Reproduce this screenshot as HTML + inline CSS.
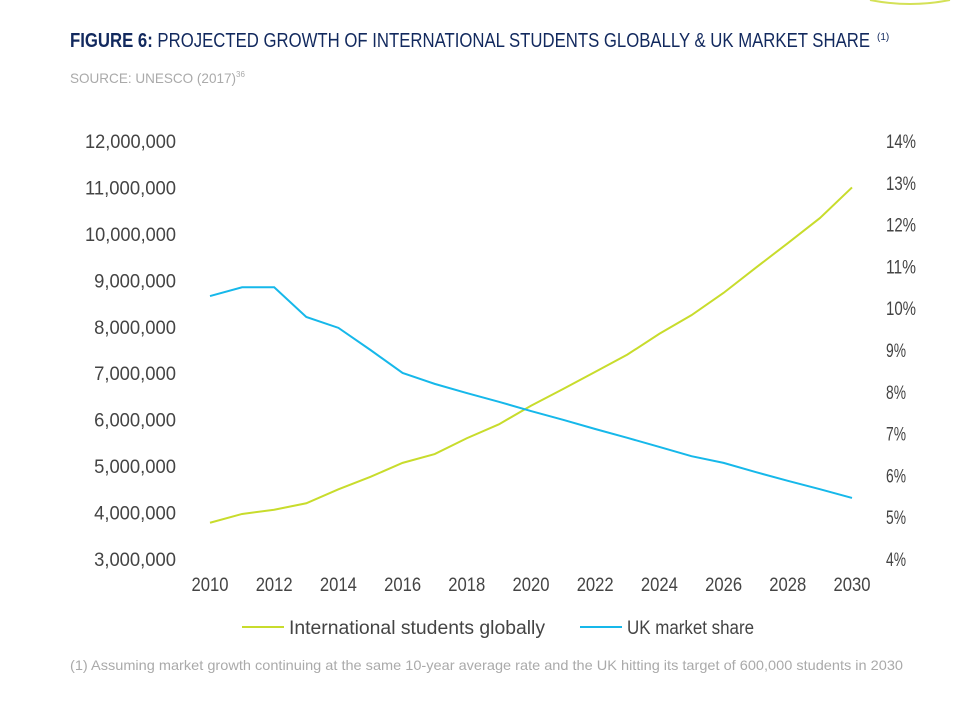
<!DOCTYPE html>
<html><head><meta charset="utf-8"><style>
body{margin:0;background:#fff;}
svg{display:block;font-family:"Liberation Sans Narrow","Liberation Sans",sans-serif;}
</style></head><body>
<svg id="chart" width="980" height="722" viewBox="0 0 980 722">
<path d="M870 0 Q910 8 950 0" fill="none" stroke="#d4e157" stroke-width="2"/>
<text x="70" y="47" font-size="20" fill="#12295e" textLength="800" lengthAdjust="spacingAndGlyphs"><tspan font-weight="bold">FIGURE 6:</tspan> PROJECTED GROWTH OF INTERNATIONAL STUDENTS GLOBALLY &amp; UK MARKET SHARE</text>
<text x="877" y="40" font-size="10" fill="#12295e">(1)</text>
<text x="70" y="83" font-size="14" fill="#aaaaaa" textLength="166" lengthAdjust="spacingAndGlyphs">SOURCE: UNESCO (2017)</text>
<text x="236" y="77" font-size="8" fill="#aaaaaa">36</text>
<g id="axes"></g>
<g id="lines"></g>
<line x1="242" y1="627" x2="284" y2="627" stroke="#c8dc2c" stroke-width="2"/>
<text x="289" y="634" font-size="19" fill="#444" textLength="256" lengthAdjust="spacingAndGlyphs">International students globally</text>
<line x1="580" y1="627" x2="622" y2="627" stroke="#16b8ea" stroke-width="2"/>
<text x="627" y="634" font-size="19" fill="#444" textLength="127" lengthAdjust="spacingAndGlyphs">UK market share</text>
<text x="70" y="670" font-size="14" fill="#aaaaaa" textLength="833" lengthAdjust="spacingAndGlyphs">(1)  Assuming market growth continuing at the same 10-year average rate and the UK hitting its target of 600,000 students in 2030</text>
</svg>
<script>
const years=[2010,2011,2012,2013,2014,2015,2016,2017,2018,2019,2020,2021,2022,2023,2024,2025,2026,2027,2028,2029,2030];
const students=[3780000,3970000,4060000,4200000,4500000,4770000,5070000,5260000,5600000,5900000,6300000,6660000,7030000,7400000,7850000,8250000,8730000,9270000,9800000,10340000,11000000];
const ukShare=[10.29,10.5,10.5,9.79,9.53,9.0,8.45,8.19,7.97,7.76,7.54,7.33,7.11,6.9,6.68,6.46,6.3,6.08,5.87,5.67,5.46];
const leftTicks=[3000000,4000000,5000000,6000000,7000000,8000000,9000000,10000000,11000000,12000000];
const rightTicks=[4,5,6,7,8,9,10,11,12,13,14];
const xTicks=[2010,2012,2014,2016,2018,2020,2022,2024,2026,2028,2030];
const NS='http://www.w3.org/2000/svg';
const x=v=>210+(v-2010)*(852-210)/20;
const yL=v=>559-(v-3000000)*(559-141)/9000000;
const yR=v=>559-(v-4)*(559-141)/10;
const axes=document.getElementById('axes'),lines=document.getElementById('lines');
function txt(px,py,s,anchor,name,len){const t=document.createElementNS(NS,'text');t.setAttribute('x',px);t.setAttribute('y',py);t.setAttribute('font-size','19');t.setAttribute('fill','#444');t.setAttribute('text-anchor',anchor);t.textContent=s;
if(len){t.setAttribute('textLength',len);t.setAttribute('lengthAdjust','spacingAndGlyphs');}


axes.appendChild(t);}
leftTicks.forEach(v=>{const s=v.toLocaleString('en-US');txt(176,yL(v)+7,s,'end','left-tick-label',s.length*9.1);});
rightTicks.forEach(v=>txt(886,yR(v)+7,v+'%','start','right-tick-label',(String(v).length+1)*10));
xTicks.forEach(v=>txt(x(v),591,String(v),'middle','x-tick-label',37));
function line(vals,yf,color,name){const p=document.createElementNS(NS,'polyline');p.setAttribute('points',vals.map((v,i)=>x(years[i])+','+yf(v)).join(' '));p.setAttribute('fill','none');p.setAttribute('stroke',color);p.setAttribute('stroke-width','2');


lines.appendChild(p);}
line(students,yL,'#c8dc2c','students-line');
line(ukShare,yR,'#16b8ea','uk-share-line');
</script>
</body></html>
